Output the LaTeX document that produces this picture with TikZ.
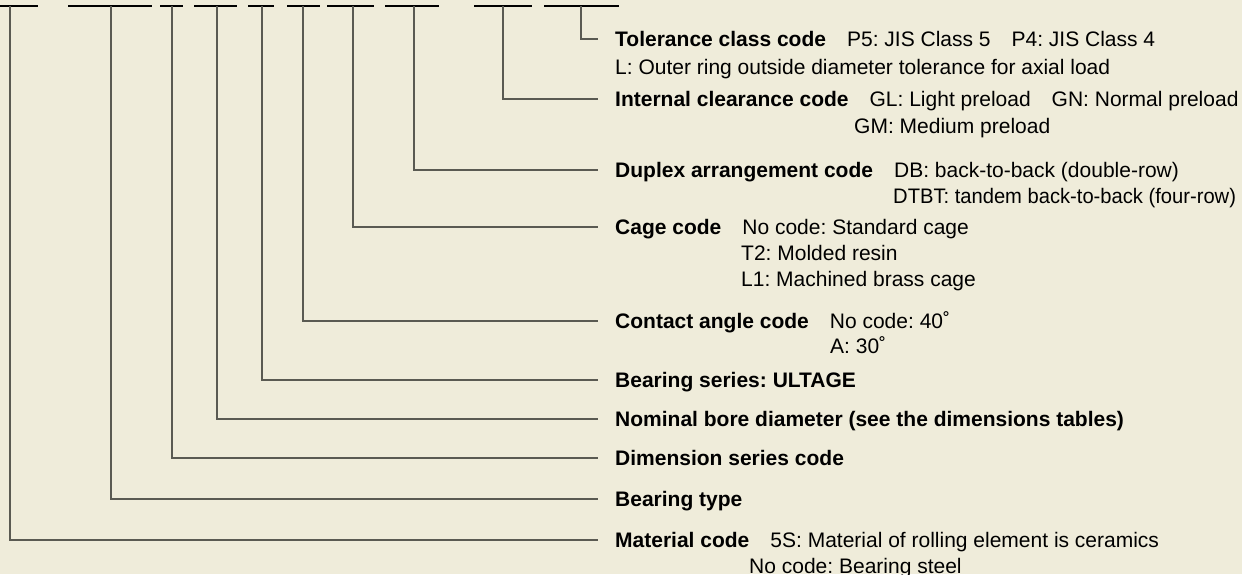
\documentclass[tikz,border=0pt]{standalone}
\usepackage{fontspec}
\setmainfont{Liberation Sans}
\frenchspacing
\definecolor{paper}{HTML}{EFECDA}
\definecolor{leadgray}{HTML}{5A5A52}

\begin{document}
\begin{tikzpicture}[x=1pt,y=-1pt,
 under/.style={draw=black,line width=1.4pt},
 lead/.style={draw=leadgray,line width=1.4pt},
 entry/.style={anchor=west,inner sep=0pt,text height=15pt,text depth=0pt,font=\fontsize{21}{26}\selectfont},
 more/.style={anchor=base west,inner sep=0pt,font=\fontsize{21}{26}\selectfont}]
\fill[paper] (0,0) rectangle (1242,574);
\useasboundingbox (0,0) rectangle (1242,574);
% code underlines
\foreach \a/\b in {0/38,68/152,160/183,194/237,248/274,287/320,327/374,385/439,474/532,544/619}
  \draw[under] (\a,6) -- (\b,6);
\coordinate (umat) at (10,6);
\coordinate (utype) at (111,6);
\coordinate (udim) at (172,6);
\coordinate (ubore) at (217,6);
\coordinate (useries) at (262,6);
\coordinate (uangle) at (303,6);
\coordinate (ucage) at (353,6);
\coordinate (uduplex) at (414,6);
\coordinate (uclear) at (503,6);
\coordinate (utol) at (581,6);
% entries
\node[entry] (tol) at (615,39) {\textbf{Tolerance class code}\quad P5: JIS Class 5\quad P4: JIS Class 4};
\node[more] (tol2) at (615,74.5) {L: Outer ring outside diameter tolerance for axial load};
\node[entry] (clear) at (615,99) {\textbf{Internal clearance code}\quad GL: Light preload\quad GN: Normal preload};
\node[more] (clear2) at (854,133.5) {GM: Medium preload};
\node[entry] (duplex) at (615,170) {\textbf{Duplex arrangement code}\quad DB: back-to-back (double-row)};
\node[more] (duplex2) at (893,203.5) {\scalebox{0.96}[1]{DTBT: tandem back-to-back (four-row)}};
\node[entry] (cage) at (615,227) {\textbf{Cage code}\quad No code: Standard cage};
\node[more] (cage2) at (741,260.5) {T2: Molded resin};
\node[more] (cage3) at (741,286.5) {L1: Machined brass cage};
\node[entry] (angle) at (615,321) {\textbf{Contact angle code}\quad No code: 40˚};
\node[more] (angle2) at (830,353.5) {A: 30˚};
\node[entry] (series) at (615,380) {\textbf{Bearing series: ULTAGE}};
\node[entry] (bore) at (615,419) {\textbf{Nominal bore diameter (see the dimensions tables)}};
\node[entry] (dim) at (615,458) {\textbf{Dimension series code}};
\node[entry] (type) at (615,499) {\textbf{Bearing type}};
\node[entry] (mat) at (615,540) {\textbf{Material code}\quad 5S: Material of rolling element is ceramics};
\node[more] (mat2) at (749,573.5) {No code: Bearing steel};
% leaders
\draw[lead] (utol) |- ([xshift=-17pt]tol.west);
\draw[lead] (uclear) |- ([xshift=-17pt]clear.west);
\draw[lead] (uduplex) |- ([xshift=-17pt]duplex.west);
\draw[lead] (ucage) |- ([xshift=-17pt]cage.west);
\draw[lead] (uangle) |- ([xshift=-17pt]angle.west);
\draw[lead] (useries) |- ([xshift=-17pt]series.west);
\draw[lead] (ubore) |- ([xshift=-17pt]bore.west);
\draw[lead] (udim) |- ([xshift=-17pt]dim.west);
\draw[lead] (utype) |- ([xshift=-17pt]type.west);
\draw[lead] (umat) |- ([xshift=-17pt]mat.west);
\end{tikzpicture}
\end{document}
